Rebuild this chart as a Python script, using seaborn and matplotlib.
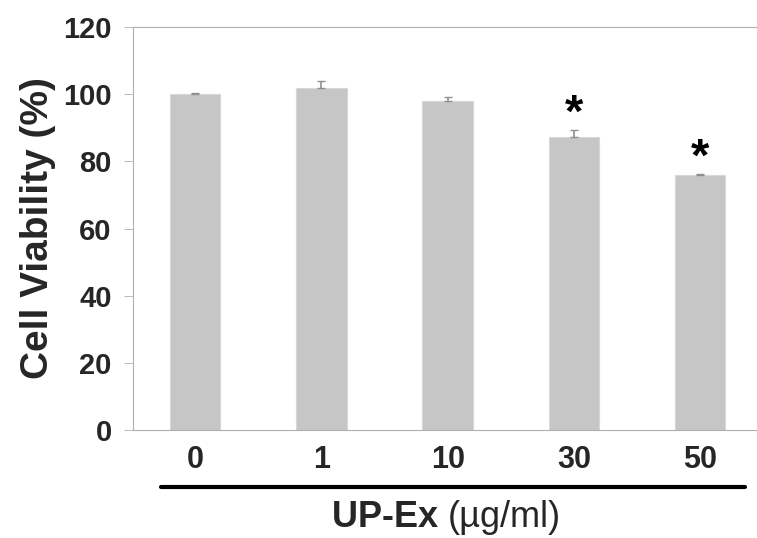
import pandas as pd
import numpy as np
import matplotlib.pyplot as plt
import seaborn as sns

# ==========================================
# DATA
# ==========================================

doses = ["0", "1", "10", "30", "50"]
viability = [100.0, 102.0, 98.0, 87.2, 75.8]
sd = [0.5, 2.0, 1.2, 2.2, 0.4]
significant = [False, False, False, True, True]

df = pd.DataFrame({"Dose": doses, "Viability": viability})

# ==========================================
# PLOT
# ==========================================

sns.set_theme(style="white")
plt.rcParams["font.family"] = ["Liberation Sans", "DejaVu Sans"]

fig = plt.figure(figsize=(7.57, 5.38), dpi=100)
ax = fig.add_axes([0.176, 0.2007, 0.824, 0.749])

sns.barplot(
    data=df,
    x="Dose",
    y="Viability",
    color="#c6c6c6",
    width=0.4,
    errorbar=None,
    saturation=1,
    ax=ax
)

for p in ax.patches:
    p.set_edgecolor("#d8d8d8")
    p.set_linewidth(0.8)

ax.errorbar(
    np.arange(len(doses)),
    viability,
    yerr=[np.zeros(len(sd)), sd],
    fmt="none",
    ecolor="#909090",
    elinewidth=1.2,
    capsize=3,
    capthick=1
)

for i, s in enumerate(significant):
    if s:
        ax.text(i, viability[i] + sd[i] + 4.5, "*", ha="center", va="center",
                fontsize=34, fontweight="bold", color="black")

ax.set_xlim(-0.49, 4.45)
ax.set_ylim(0, 120)
ax.set_yticks(range(0, 121, 20))

for side in ["top", "left", "bottom"]:
    ax.spines[side].set_visible(True)
    ax.spines[side].set_color("#b0b0b0")
    ax.spines[side].set_linestyle((0, (1, 1)))
    ax.spines[side].set_linewidth(0.8)
ax.spines["right"].set_visible(False)

ax.tick_params(axis="y", length=6.5, width=0.6, color="#b0b0b0",
               labelsize=21, pad=9, left=True)
ax.tick_params(axis="x", length=0, labelsize=22, pad=11)
for lab in ax.get_xticklabels() + ax.get_yticklabels():
    lab.set_fontweight("bold")

ax.set_ylabel("Cell Viability (%)", fontsize=28, fontweight="bold", labelpad=5)
ax.set_xlabel("")

# thick line under the dose labels
ax.plot([0.045, 0.981], [-0.141, -0.141], transform=ax.transAxes,
        color="black", linewidth=3, clip_on=False)

ax.text(0.505, -0.218, "UP-Ex ", transform=ax.transAxes, ha="right",
        va="center", fontsize=26, fontweight="bold")
ax.text(0.505, -0.218, "(µg/ml)", transform=ax.transAxes, ha="left",
        va="center", fontsize=26)

plt.savefig("out.png", dpi=100)
